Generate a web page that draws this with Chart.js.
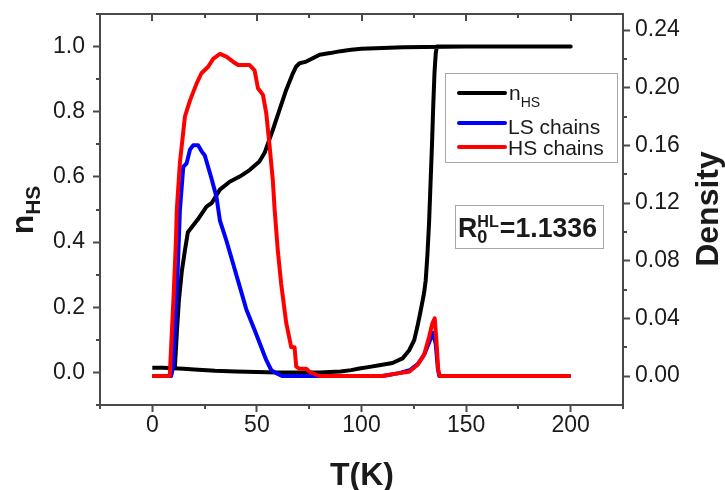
<!DOCTYPE html>
<html lang="en">
<head>
<meta charset="UTF-8">
<title>nHS and chain density vs T</title>
<script src="https://cdn.jsdelivr.net/npm/chart.js"></script>
<style>
  html, body { margin: 0; padding: 0; background: #fff; }
  #wrap { width: 725px; height: 490px; }
</style>
</head>
<body>
<div id="wrap"><canvas id="chart" width="725" height="490"></canvas></div>
<script>
// n_HS (left axis): heating branch first, then back along the upper branch
const nhsT = [0, 5, 10, 15, 20, 30, 40, 50, 60, 70, 80, 90, 95, 99, 104, 108.5, 114.8, 119.6, 122.8, 125.2, 126.7, 128.3, 129.9, 130.7, 131.5, 132.3, 133, 133.7, 134.3, 134.9, 135.5, 136, 140, 200,
  150, 130, 120, 110, 100, 95, 90, 85, 80, 76.7, 73.6, 70.4, 68.8, 67.2, 64, 60.8, 57.6, 55.3, 53.7, 51.2, 46.5, 41.8, 37, 32.3, 28.4, 25.9, 21.8, 19.4, 17, 15.6, 14.1, 12.7, 11.8, 10.8];
const nhsVal = [0.014, 0.014, 0.013, 0.011, 0.009, 0.005, 0.003, 0.001, 0, 0, 0, 0.003, 0.007, 0.012, 0.017, 0.022, 0.029, 0.043, 0.068, 0.099, 0.14, 0.19, 0.243, 0.283, 0.36, 0.46, 0.58, 0.70, 0.82, 0.92, 0.98, 1.0, 1.0, 1.0,
  1.0, 0.999, 0.998, 0.996, 0.993, 0.99, 0.986, 0.98, 0.975, 0.964, 0.954, 0.949, 0.939, 0.918, 0.867, 0.806, 0.744, 0.703, 0.674, 0.647, 0.621, 0.601, 0.585, 0.561, 0.52, 0.509, 0.47, 0.45, 0.43, 0.375, 0.31, 0.22, 0.13, 0.016];

// LS chains density (right axis)
const lsT = [0, 9, 10.0, 11.8, 13.2, 14.8, 16.4, 18.0, 19.5, 21.9, 23.5, 25.1, 26.7, 28.3, 30.7, 32.3, 35.4, 38.6, 41.8, 45.0, 48.9, 52.1, 54.5, 56.9, 59.3, 62, 110, 118, 123, 127, 130, 132.5, 134.3, 135.5, 136.5, 137.2, 200];
const lsVal = [0, 0, 0.0065, 0.060, 0.115, 0.145, 0.1475, 0.157, 0.160, 0.160, 0.156, 0.153, 0.145, 0.137, 0.124, 0.108, 0.094, 0.078, 0.062, 0.046, 0.032, 0.020, 0.011, 0.004, 0.002, 0, 0, 0.002, 0.004, 0.0085, 0.015, 0.024, 0.030, 0.022, 0.005, 0, 0];

// HS chains density (right axis)
const hsT = [0, 8, 8.4, 10.1, 11.3, 11.7, 13.2, 15.6, 18.0, 21.2, 23.5, 26.7, 29.1, 32.3, 35.4, 38.6, 41.0, 46.5, 48.9, 50.5, 52.9, 54.5, 56.1, 57.6, 58.5, 60.0, 61.6, 64.0, 66.4, 68.0, 68.8, 70.4, 73.6, 75.1, 77.5, 80, 110, 118, 122.8, 126.7, 129.9, 132.3, 133.9, 135.0, 135.8, 136.7, 137.4, 200];
const hsVal = [0, 0, 0.002, 0.053, 0.094, 0.115, 0.148, 0.180, 0.191, 0.203, 0.210, 0.2145, 0.220, 0.2234, 0.2215, 0.218, 0.2157, 0.2157, 0.212, 0.1996, 0.195, 0.182, 0.159, 0.136, 0.115, 0.087, 0.064, 0.037, 0.020, 0.020, 0.0065, 0.005, 0.005, 0.003, 0.0014, 0, 0, 0.002, 0.003, 0.0076, 0.0146, 0.027, 0.0366, 0.040, 0.025, 0.004, 0, 0];

const xTicks = [0, 50, 100, 150, 200];
const xMinor = [-25, 25, 75, 125, 175, 225];
const nhsTicks = [0, 0.2, 0.4, 0.6, 0.8, 1.0];
const nhsMinor = [-0.1, 0.1, 0.3, 0.5, 0.7, 0.9, 1.1];
const densityTicks = [0, 0.04, 0.08, 0.12, 0.16, 0.20, 0.24];
const densityMinor = [0.02, 0.06, 0.10, 0.14, 0.18, 0.22];

const FONT = "'Liberation Sans', Arial, sans-serif";
const axisColor = '#4a4a4a';
const textColor = '#1a1a1a';

function pts(xs, ys) {
  return xs.map((x, i) => ({ x: x, y: ys[i] }));
}

function axisOpts(extra) {
  return Object.assign({
    grid: { display: true, drawOnChartArea: false, drawTicks: true, tickLength: 7, tickWidth: 2, tickColor: axisColor },
    border: { display: true, color: axisColor, width: 2 }
  }, extra);
}

// minor ticks, top frame line and top ticks
const frame = {
  id: 'frame',
  afterDraw(chart) {
    const ctx = chart.ctx, a = chart.chartArea;
    const x = chart.scales.x, yl = chart.scales.y, yr = chart.scales.y2;
    ctx.save();
    ctx.strokeStyle = axisColor;
    ctx.lineWidth = 2;
    ctx.beginPath();
    ctx.moveTo(a.left - 1, a.top);
    ctx.lineTo(a.right + 1, a.top);
    xTicks.forEach(v => {
      const p = Math.round(x.getPixelForValue(v));
      ctx.moveTo(p, a.top); ctx.lineTo(p, a.top + 7);
    });
    xMinor.forEach(v => {
      const p = Math.round(x.getPixelForValue(v));
      ctx.moveTo(p, a.top); ctx.lineTo(p, a.top + 4);
      ctx.moveTo(p, a.bottom); ctx.lineTo(p, a.bottom + 4);
    });
    nhsMinor.forEach(v => {
      const p = Math.round(yl.getPixelForValue(v));
      ctx.moveTo(a.left, p); ctx.lineTo(a.left - 4, p);
    });
    densityMinor.forEach(v => {
      const p = Math.round(yr.getPixelForValue(v));
      ctx.moveTo(a.right, p); ctx.lineTo(a.right + 4, p);
    });
    ctx.stroke();
    ctx.restore();
  }
};

// axis titles, legend and the R0 box
const labels = {
  id: 'labels',
  afterDraw(chart) {
    const ctx = chart.ctx;
    ctx.save();
    ctx.fillStyle = textColor;
    ctx.textBaseline = 'alphabetic';

    // x title
    ctx.font = 'bold 32px ' + FONT;
    ctx.textAlign = 'center';
    ctx.fillText('T(K)', 362, 485);

    // right title
    ctx.save();
    ctx.translate(718, 209);
    ctx.rotate(-Math.PI / 2);
    ctx.fillText('Density', 0, 0);
    ctx.restore();

    // left title n_HS
    ctx.save();
    ctx.translate(33, 210);
    ctx.rotate(-Math.PI / 2);
    ctx.textAlign = 'left';
    ctx.font = 'bold 32px ' + FONT;
    const wn = ctx.measureText('n').width;
    ctx.font = 'bold 21px ' + FONT;
    const ws = ctx.measureText('HS').width;
    const x0 = -(wn + ws) / 2;
    ctx.font = 'bold 32px ' + FONT;
    ctx.fillText('n', x0, 0);
    ctx.font = 'bold 21px ' + FONT;
    ctx.fillText('HS', x0 + wn, 7);
    ctx.restore();

    // legend
    ctx.strokeStyle = '#a8a8a8';
    ctx.lineWidth = 1;
    ctx.strokeRect(445.5, 73.5, 172, 89);
    const rows = [
      { color: '#000000', y: 93 },
      { color: '#0000ff', y: 123 },
      { color: '#ff0000', y: 147 }
    ];
    ctx.lineWidth = 4;
    ctx.lineCap = 'round';
    rows.forEach(r => {
      ctx.strokeStyle = r.color;
      ctx.beginPath();
      ctx.moveTo(459, r.y); ctx.lineTo(505, r.y);
      ctx.stroke();
    });
    ctx.textAlign = 'left';
    ctx.font = '21px ' + FONT;
    ctx.fillText('n', 509, 100);
    const wn2 = ctx.measureText('n').width;
    ctx.font = '14px ' + FONT;
    ctx.fillText('HS', 509 + wn2, 107);
    ctx.font = '21px ' + FONT;
    ctx.fillText('LS chains', 508, 134);
    ctx.fillText('HS chains', 508, 155);

    // R0 box
    ctx.strokeStyle = '#a8a8a8';
    ctx.lineWidth = 1;
    ctx.strokeRect(455.5, 205.5, 148, 43);
    ctx.font = 'bold 28px ' + FONT;
    const wR = ctx.measureText('R').width;
    const wEq = ctx.measureText('=1.1336').width;
    ctx.font = 'bold 17px ' + FONT;
    const wHL = ctx.measureText('HL').width;
    const total = wR + wHL + 1 + wEq;
    const k = 139 / total;
    ctx.save();
    ctx.translate(458, 0);
    ctx.scale(k, 1);
    ctx.font = 'bold 28px ' + FONT;
    ctx.fillText('R', 0, 237);
    ctx.font = 'bold 17px ' + FONT;
    ctx.fillText('HL', wR, 227);
    ctx.font = 'bold 19px ' + FONT;
    ctx.fillText('0', wR, 243);
    ctx.font = 'bold 28px ' + FONT;
    ctx.fillText('=1.1336', wR + wHL + 1, 237);
    ctx.restore();

    ctx.restore();
  }
};

const ctx = document.getElementById('chart').getContext('2d');
new Chart(ctx, {
  type: 'line',
  data: {
    datasets: [
      { label: 'HS chains', data: pts(hsT, hsVal), yAxisID: 'y2', borderColor: '#ff0000' },
      { label: 'LS chains', data: pts(lsT, lsVal), yAxisID: 'y2', borderColor: '#0000ff' },
      { label: 'nHS', data: pts(nhsT, nhsVal), yAxisID: 'y', borderColor: '#000000' }
    ]
  },
  options: {
    responsive: false,
    animation: false,
    layout: { padding: { top: 14, left: 0, right: 0, bottom: 0 } },
    elements: {
      point: { radius: 0 },
      line: { borderWidth: 4, tension: 0, fill: false, borderJoinStyle: 'round', borderCapStyle: 'butt' }
    },
    plugins: { legend: { display: false }, tooltip: { enabled: false } },
    scales: {
      x: axisOpts({
        type: 'linear', position: 'bottom', min: -25, max: 225,
        afterBuildTicks: s => { s.ticks = xTicks.map(v => ({ value: v })); },
        afterFit: s => { s.height = 85; s.paddingLeft = 0; s.paddingRight = 0; },
        ticks: { font: { family: FONT, size: 23 }, color: textColor, padding: 0, maxRotation: 0, callback: v => String(v) }
      }),
      y: axisOpts({
        type: 'linear', position: 'left', min: -0.1, max: 1.1,
        afterBuildTicks: s => { s.ticks = nhsTicks.map(v => ({ value: v })); },
        afterFit: s => { s.width = 100; s.paddingTop = 0; s.paddingBottom = 0; },
        ticks: { font: { family: FONT, size: 23 }, color: textColor, padding: 8, callback: v => v.toFixed(1) }
      }),
      y2: axisOpts({
        type: 'linear', position: 'right', min: -0.0201, max: 0.2511,
        afterBuildTicks: s => { s.ticks = densityTicks.map(v => ({ value: v })); },
        afterFit: s => { s.width = 102; s.paddingTop = 0; s.paddingBottom = 0; },
        ticks: { font: { family: FONT, size: 23 }, color: textColor, padding: 5, callback: v => v.toFixed(2) }
      })
    }
  },
  plugins: [frame, labels]
});
</script>
</body>
</html>
